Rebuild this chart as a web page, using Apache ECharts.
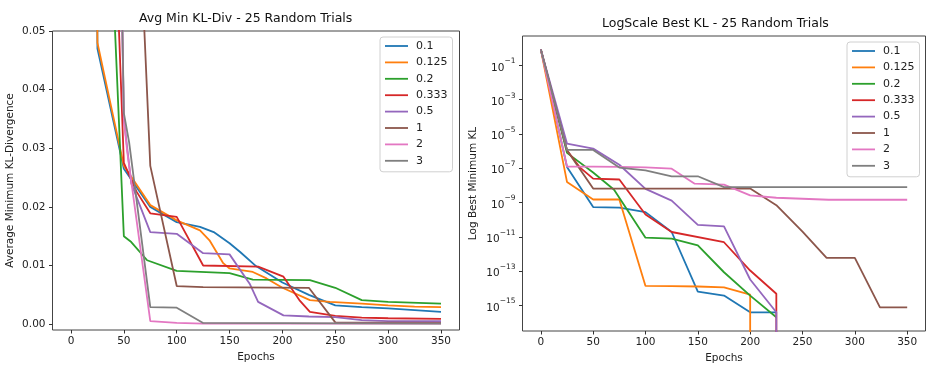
<!DOCTYPE html>
<html><head><meta charset="utf-8">
<script src="https://cdn.jsdelivr.net/npm/echarts@6/dist/echarts.min.js"></script>
<style>html,body{margin:0;padding:0;background:#fff}#c{width:935px;height:370px}</style>
</head><body><div id="c"></div>
<script>
const names = ['0.1', '0.125', '0.2', '0.333', '0.5', '1', '2', '3'];
const colors = ['#1f77b4', '#ff7f0e', '#2ca02c', '#d62728', '#9467bd', '#8c564b', '#e377c2', '#7f7f7f'];
const xTicks = [0, 50, 100, 150, 200, 250, 300, 350];
const avgTicks = [0, 0.01, 0.02, 0.03, 0.04, 0.05];
const logTicks = [1e-1, 1e-3, 1e-5, 1e-7, 1e-9, 1e-11, 1e-13, 1e-15];

// Left: average minimum KL-divergence  [epoch, value]
const avg_0_1 = [[0,0.8],[25,0.047],[50,0.0265],[75,0.0200],[100,0.0174],[122,0.0166],[135,0.0157],[150,0.0138],[160,0.0123],[175,0.0099],[200,0.0071],[225,0.0050],[250,0.0032],[275,0.0029],[300,0.0027],[325,0.0024],[350,0.0021]];
const avg_0_125 = [[0,0.8],[25,0.048],[50,0.027],[75,0.0203],[100,0.0177],[122,0.0160],[131,0.0143],[144,0.0104],[150,0.0095],[172,0.0089],[185,0.0078],[200,0.0062],[226,0.0041],[245,0.0038],[275,0.0035],[300,0.0032],[325,0.0030],[350,0.0029]];
const avg_0_2 = [[0,0.8],[25,0.12],[50,0.015],[57,0.014],[72,0.0109],[100,0.0091],[150,0.0087],[172,0.0076],[226,0.0075],[250,0.0062],[275,0.0041],[300,0.0038],[350,0.0035]];
const avg_0_333 = [[0,0.8],[25,0.15],[50,0.0275],[62,0.0226],[75,0.0189],[100,0.0183],[125,0.0100],[177,0.0098],[201,0.0081],[216,0.0041],[226,0.0021],[250,0.0014],[275,0.0011],[300,0.0010],[350,0.0009]];
const avg_0_5 = [[0,0.8],[25,0.3],[50,0.035],[57,0.024],[75,0.0157],[100,0.0154],[125,0.0121],[150,0.0119],[169,0.0069],[177,0.0038],[201,0.0015],[225,0.0013],[250,0.0012],[275,0.0007],[300,0.0005],[350,0.0005]];
const avg_1 = [[0,0.8],[25,0.5],[50,0.13],[75,0.027],[100,0.0065],[125,0.0063],[225,0.0062],[250,0.0003],[350,0.0002]];
const avg_2 = [[0,0.8],[25,0.3],[50,0.035],[53,0.0297],[75,0.0005],[100,0.0002],[125,0.0001],[350,0.0001]];
const avg_3 = [[0,0.8],[25,0.3],[50,0.036],[55,0.031],[75,0.0029],[100,0.0028],[125,0.0002],[350,0.0001]];

// Right: best minimum KL (log scale)  [epoch, value]; 1e-20 marks a drop to zero
const best_0_1 = [[0,0.87],[25,1.2e-7],[50,5.4e-10],[75,5e-10],[100,2.75e-10],[125,1.9e-11],[150,6.3e-15],[175,3.7e-15],[200,3.9e-16],[225,3.9e-16]];
const best_0_125 = [[0,0.87],[25,1.6e-8],[50,1.5e-9],[75,1.5e-9],[100,1.35e-14],[125,1.3e-14],[150,1.25e-14],[175,1.12e-14],[200,4.2e-15],[200,1e-20]];
const best_0_2 = [[0,0.87],[25,7.9e-7],[50,5.6e-8],[70,5.6e-9],[100,8.9e-12],[125,7.9e-12],[150,3.2e-12],[175,8.5e-14],[200,3.7e-15],[225,2e-16]];
const best_0_333 = [[0,0.87],[25,1.12e-6],[37,1.17e-7],[50,2.5e-8],[75,2.2e-8],[100,2e-10],[125,1.9e-11],[175,4.8e-12],[200,1.07e-13],[225,4.7e-15],[225,1e-20]];
const best_0_5 = [[0,0.87],[25,2.75e-6],[50,1.4e-6],[75,1.6e-7],[100,6.3e-9],[125,1.3e-9],[150,5e-11],[175,4e-11],[200,3.2e-14],[225,3.9e-16],[225,1e-20]];
const best_1 = [[0,0.87],[25,1.12e-6],[50,6.5e-9],[200,6.5e-9],[225,7e-10],[250,2e-11],[273,5.9e-13],[300,5.9e-13],[324,7.6e-16],[350,7.6e-16]];
const best_2 = [[0,0.87],[25,1.26e-7],[50,1.26e-7],[75,1.2e-7],[100,1.12e-7],[125,9.5e-8],[147,1.26e-8],[175,1.1e-8],[200,2.6e-9],[225,1.9e-9],[275,1.45e-9],[350,1.45e-9]];
const best_3 = [[0,0.87],[25,1.17e-6],[50,1.17e-6],[75,1.1e-7],[100,7.6e-8],[125,3.4e-8],[150,3.4e-8],[175,7.9e-9],[350,7.9e-9]];

const avgData = [avg_0_1, avg_0_125, avg_0_2, avg_0_333, avg_0_5, avg_1, avg_2, avg_3];
const bestData = [best_0_1, best_0_125, best_0_2, best_0_333, best_0_5, best_1, best_2, best_3];

const FONT = 'DejaVu Sans';
const TXT = '#222';

function xAxisCfg(gi, gap) {
  return {
    gridIndex: gi, type: 'value', min: -17.5, max: 367.5,
    axisLine: { show: false, onZero: false },
    axisTick: { show: true, customValues: xTicks, length: 3.5, lineStyle: { color: '#333', width: 1 } },
    axisLabel: { customValues: xTicks, margin: 6, fontSize: 10.5, fontFamily: FONT, color: TXT },
    splitLine: { show: false },
    name: 'Epochs', nameLocation: 'middle', nameGap: gap,
    nameTextStyle: { fontSize: 10.5, fontFamily: FONT, color: TXT }
  };
}

function logLabel(v) {
  const e = Math.round(Math.log10(v));
  return '{b|10}{s|' + (e < 0 ? '\u2212' : '') + Math.abs(e) + '}';
}

const series = [];
names.forEach((n, i) => {
  series.push({
    name: n, type: 'line', xAxisIndex: 0, yAxisIndex: 0, data: avgData[i],
    showSymbol: false, symbol: 'none', clip: true, color: colors[i],
    lineStyle: { width: 1.8, color: colors[i] }
  });
});
names.forEach((n, i) => {
  series.push({
    name: n, type: 'line', xAxisIndex: 1, yAxisIndex: 1, data: bestData[i],
    showSymbol: false, symbol: 'none', clip: true, color: colors[i],
    lineStyle: { width: 1.8, color: colors[i] }
  });
});

function legendCfg(left, top) {
  return {
    orient: 'vertical', left: left, top: top, data: names,
    icon: 'rect', itemWidth: 23, itemHeight: 1.8, itemGap: 2.4,
    padding: [2, 5, 4, 5],
    backgroundColor: '#fff', borderColor: '#d0d0d0', borderWidth: 1, borderRadius: 3,
    textStyle: { fontSize: 11, fontFamily: FONT, color: TXT, lineHeight: 14, padding: [0, 0, 0, 3] },
    selectedMode: false
  };
}

const option = {
  animation: false,
  backgroundColor: '#fff',
  title: [
    { text: 'Avg Min KL-Div - 25 Random Trials', left: 139, top: 12, padding: 0,
      textStyle: { fontSize: 12.5, fontWeight: 'normal', fontFamily: FONT, color: '#111' } },
    { text: 'LogScale Best KL - 25 Random Trials', left: 602, top: 17, padding: 0,
      textStyle: { fontSize: 12.5, fontWeight: 'normal', fontFamily: FONT, color: '#111' } }
  ],
  grid: [
    { left: 52.5, top: 31, width: 407, height: 299, show: true, borderColor: '#444', borderWidth: 1, backgroundColor: 'transparent' },
    { left: 522.5, top: 36, width: 403, height: 295, show: true, borderColor: '#444', borderWidth: 1, backgroundColor: 'transparent' }
  ],
  legend: [legendCfg(380, 37), legendCfg(847, 42)],
  xAxis: [xAxisCfg(0, 21), xAxisCfg(1, 22)],
  yAxis: [
    {
      gridIndex: 0, type: 'value', min: -0.001, max: 0.05,
      axisLine: { show: false, onZero: false },
      axisTick: { show: true, customValues: avgTicks, length: 3.5, lineStyle: { color: '#333', width: 1 } },
      axisLabel: { customValues: avgTicks, margin: 7, fontSize: 10.5, fontFamily: FONT, color: TXT,
        formatter: v => v.toFixed(2) },
      splitLine: { show: false },
      name: 'Average Minimum KL-Divergence', nameLocation: 'middle', nameGap: 37, nameRotate: 90,
      nameTextStyle: { fontSize: 10.5, fontFamily: FONT, color: TXT }
    },
    {
      gridIndex: 1, type: 'log', logBase: 10, min: Math.pow(10, -16.5), max: Math.pow(10, 0.72),
      axisLine: { show: false, onZero: false },
      axisTick: { show: true, customValues: logTicks, length: 3.5, lineStyle: { color: '#333', width: 1 } },
      axisLabel: { customValues: logTicks, margin: 7, color: TXT,
        formatter: logLabel,
        rich: {
          b: { fontSize: 10.5, fontFamily: FONT, color: TXT, lineHeight: 16, verticalAlign: 'bottom' },
          s: { fontSize: 7.5, fontFamily: FONT, color: TXT, lineHeight: 10, verticalAlign: 'top' }
        } },
      splitLine: { show: false },
      name: 'Log Best Minimum KL', nameLocation: 'middle', nameGap: 44, nameRotate: 90,
      nameTextStyle: { fontSize: 10.5, fontFamily: FONT, color: TXT }
    }
  ],
  series: series
};

const chart = echarts.init(document.getElementById('c'), null, { renderer: 'canvas' });
chart.setOption(option);
</script>
</body></html>
